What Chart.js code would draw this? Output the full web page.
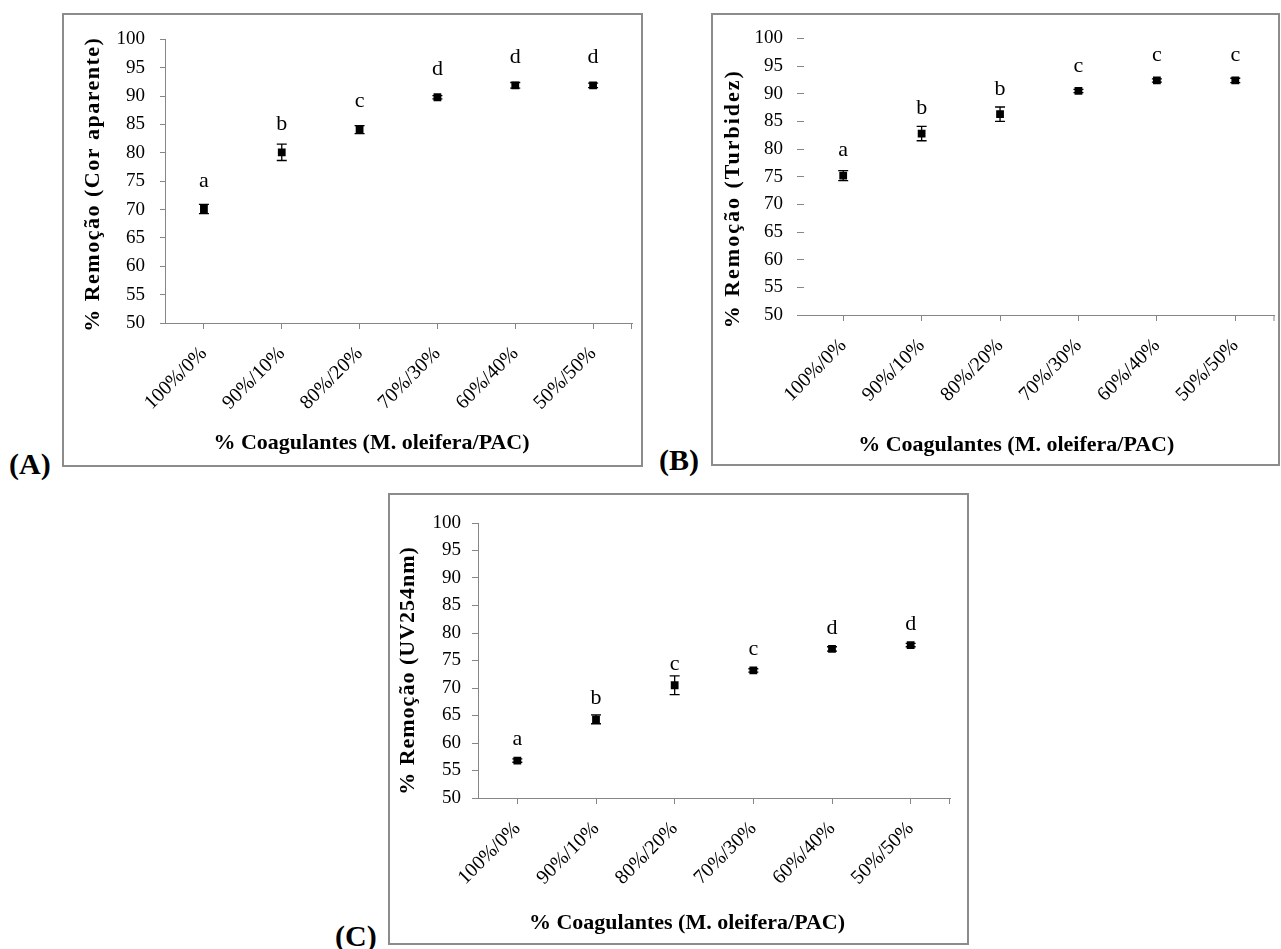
<!DOCTYPE html>
<html>
<head>
<meta charset="utf-8">
<script src="https://cdn.jsdelivr.net/npm/chart.js@4"></script>
<style>
  body { margin: 0; background: #fff; width: 1281px; height: 949px; position: relative; overflow: hidden; }
  .panel { position: absolute; }
  .frame { position: absolute; left: 0; top: 0; right: 0; bottom: 0; border: 2px solid #8c8c8c; box-sizing: border-box; pointer-events: none; }
  .tag { position: absolute; font: bold 30px "Liberation Serif", serif; color: #000; line-height: 1; }
</style>
</head>
<body>

<div class="panel" id="pA" style="left:62px; top:13px; width:581px; height:454px;"><canvas id="chartA"></canvas><div class="frame"></div></div>
<div class="panel" id="pB" style="left:711px; top:13px; width:569px; height:453px;"><canvas id="chartB"></canvas><div class="frame"></div></div>
<div class="panel" id="pC" style="left:388px; top:493px; width:581px; height:452px;"><canvas id="chartC"></canvas><div class="frame"></div></div>

<div class="tag" style="left:9px; top:449px;">(A)</div>
<div class="tag" style="left:659px; top:445px;">(B)</div>
<div class="tag" style="left:335px; top:921px;">(C)</div>

<script>
// categories (M. oleifera / PAC)
const categories = ['100%/0%', '90%/10%', '80%/20%', '70%/30%', '60%/40%', '50%/50%'];

// (A) cor aparente
const corValues = [70.1, 80.1, 84.1, 89.8, 91.9, 91.9];
const corErrors = [0.8, 1.45, 0.7, 0.3, 0.5, 0.4];
const corLetters = ['a', 'b', 'c', 'd', 'd', 'd'];

// (B) turbidez
const turbValues = [75.2, 82.8, 86.3, 90.5, 92.4, 92.4];
const turbErrors = [0.9, 1.3, 1.3, 0.3, 0.3, 0.4];
const turbLetters = ['a', 'b', 'b', 'c', 'c', 'c'];

// (C) UV254nm
const uvValues = [56.8, 64.3, 70.5, 73.2, 77.1, 77.8];
const uvErrors = [0.3, 0.8, 1.7, 0.3, 0.4, 0.3];
const uvLetters = ['a', 'b', 'c', 'c', 'd', 'd'];

const yMin = 50, yMax = 100, yStep = 5;
const xTitle = '% Coagulantes (M. oleifera/PAC)';

const axisGray = '#868686';
const serif = '"Liberation Serif", "Times New Roman", serif';

// error bars, significance letters, axis titles
const extras = {
  id: 'extras',
  afterDatasetsDraw(chart, args, o) {
    const ctx = chart.ctx, ys = chart.scales.y;
    const meta = chart.getDatasetMeta(0);
    ctx.save();
    ctx.strokeStyle = '#000';
    ctx.lineWidth = 1.3;
    ctx.fillStyle = '#000';
    ctx.font = '22px ' + serif;
    ctx.textAlign = 'center';
    ctx.textBaseline = 'middle';
    meta.data.forEach((pt, i) => {
      const v = o.values[i], e = o.errors[i];
      const top = ys.getPixelForValue(v + e), bot = ys.getPixelForValue(v - e);
      ctx.beginPath();
      ctx.moveTo(pt.x, top); ctx.lineTo(pt.x, bot);
      ctx.moveTo(pt.x - 5, top); ctx.lineTo(pt.x + 5, top);
      ctx.moveTo(pt.x - 5, bot); ctx.lineTo(pt.x + 5, bot);
      ctx.stroke();
      ctx.fillText(o.letters[i], pt.x, ys.getPixelForValue(v) - o.letterGap);
    });
    ctx.restore();
  },
  afterDraw(chart, args, o) {
    const ctx = chart.ctx, a = chart.chartArea;
    ctx.save();
    // tick at the right end of the x axis
    ctx.strokeStyle = axisGray;
    ctx.lineWidth = 1;
    ctx.beginPath();
    ctx.moveTo(a.right - 0.5, a.bottom); ctx.lineTo(a.right - 0.5, a.bottom + 6);
    ctx.stroke();

    ctx.fillStyle = '#000';
    ctx.textAlign = 'center';
    ctx.textBaseline = 'middle';
    ctx.font = 'bold 22px ' + serif;
    ctx.fillText(xTitle, (a.left + a.right) / 2 + o.xShift, chart.height - o.xFromBottom);

    ctx.translate(o.yTitleX, (a.top + a.bottom) / 2 + o.yShift);
    ctx.rotate(-Math.PI / 2);
    ctx.font = 'bold 22px ' + serif;
    ctx.letterSpacing = o.spacing + 'px';
    ctx.fillText(o.yTitle, 0, 0);
    ctx.restore();
  }
};

function makePanel(id, values, errors, letters, p) {
  const canvas = document.getElementById(id);
  const box = canvas.parentElement;
  const W = box.clientWidth, H = box.clientHeight;
  return new Chart(canvas, {
    type: 'line',
    data: {
      labels: categories,
      datasets: [{
        data: values,
        showLine: false,
        pointStyle: 'rect',
        pointRadius: 5.5,
        pointHoverRadius: 5.5,
        pointBackgroundColor: '#000',
        pointBorderWidth: 0
      }]
    },
    options: {
      responsive: true,
      maintainAspectRatio: false,
      animation: false,
      layout: { padding: { top: p.top, right: W - p.right, left: 0, bottom: 0 } },
      plugins: {
        legend: { display: false },
        tooltip: { enabled: false },
        extras: {
          values: values, errors: errors, letters: letters,
          letterGap: p.letterGap, yTitle: p.yTitle, yTitleX: p.yTitleX, yShift: p.yShift,
          xShift: p.xShift, xFromBottom: p.xFromBottom, spacing: p.spacing
        }
      },
      scales: {
        x: {
          type: 'category',
          offset: true,
          afterFit: s => { s.height = H - p.bottom; },
          grid: { offset: false, drawOnChartArea: false, drawTicks: true, tickLength: 6, tickColor: axisGray },
          border: { display: true, color: axisGray },
          ticks: {
            autoSkip: false, minRotation: 45, maxRotation: 45, padding: p.xPad,
            color: '#000', font: { family: serif, size: 20 }
          }
        },
        y: {
          min: yMin, max: yMax,
          afterFit: s => { s.width = p.left; },
          grid: { drawOnChartArea: false, drawTicks: true, tickLength: p.tl, tickColor: axisGray },
          border: { display: p.yLine, color: axisGray },
          ticks: {
            stepSize: yStep, padding: p.yPad,
            color: '#000', font: { family: serif, size: 19 }
          }
        }
      }
    },
    plugins: [extras]
  });
}

makePanel('chartA', corValues, corErrors, corLetters, {
  left: 103, top: 22, right: 570, bottom: 310, tl: 5, yPad: 15, yLine: true, xPad: 13,
  letterGap: 28, yTitle: '% Remoção (Cor aparente)', yTitleX: 31, yShift: 3, spacing: 1.5,
  xShift: -27, xFromBottom: 24
});

makePanel('chartB', turbValues, turbErrors, turbLetters, {
  left: 93, top: 25, right: 564, bottom: 302, tl: 7, yPad: 14, yLine: false, xPad: 13,
  letterGap: 25, yTitle: '% Remoção (Turbidez)', yTitleX: 22, yShift: 22, spacing: 2,
  xShift: -23, xFromBottom: 21
});

makePanel('chartC', uvValues, uvErrors, uvLetters, {
  left: 90, top: 30, right: 562, bottom: 305, tl: 6, yPad: 11, yLine: true, xPad: 13,
  letterGap: 21, yTitle: '% Remoção (UV254nm)', yTitleX: 20, yShift: 10, spacing: 1,
  xShift: -27, xFromBottom: 22
});
</script>
</body>
</html>
